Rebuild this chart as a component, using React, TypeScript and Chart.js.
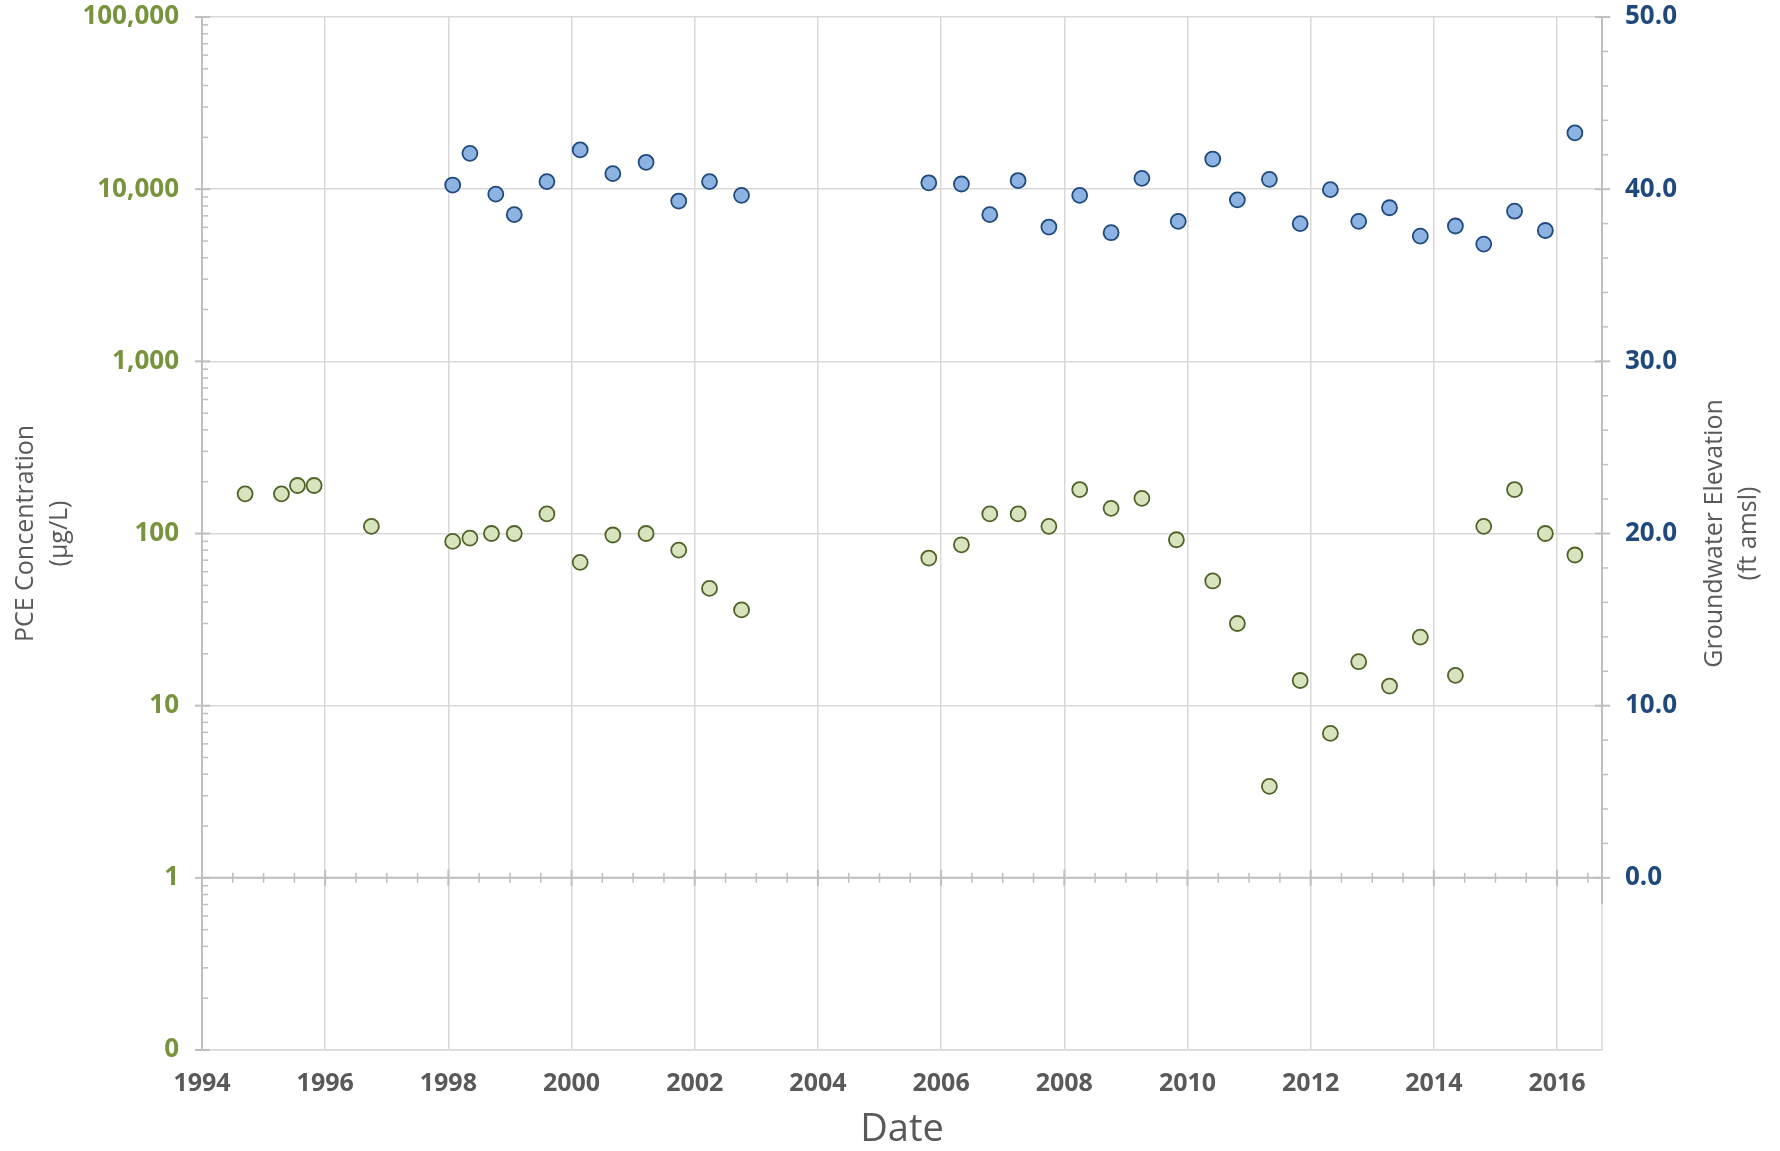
import React, { useEffect, useRef } from "react";
import { Chart, registerables } from "chart.js";

Chart.register(...registerables);

// ---- Data (decimal years) ----
const YEAR_TICKS = [1994, 1996, 1998, 2000, 2002, 2004, 2006, 2008, 2010, 2012, 2014, 2016];
const X_MIN = 1994;
const X_MAX = 2016.73;

const CONC_TICKS = [0.1, 1, 10, 100, 1000, 10000, 100000];
const ELEV_TICKS = [0, 10, 20, 30, 40, 50];

const PCE_DATES = [
  1994.7, 1995.29, 1995.55, 1995.82, 1996.75, 1998.07, 1998.35, 1998.7, 1999.07, 1999.6,
  2000.14, 2000.67, 2001.21, 2001.74, 2002.24, 2002.76, 2005.8, 2006.33, 2006.79, 2007.25,
  2007.75, 2008.25, 2008.76, 2009.26, 2009.82, 2010.41, 2010.81, 2011.33, 2011.83, 2012.32,
  2012.78, 2013.28, 2013.78, 2014.35, 2014.81, 2015.31, 2015.81, 2016.29,
];
const PCE_VALUES = [
  170, 170, 190, 190, 110, 90, 94, 100, 100, 130,
  68, 98, 100, 80, 48, 36, 72, 86, 130, 130,
  110, 180, 140, 160, 92, 53, 30, 3.4, 14, 6.9,
  18, 13, 25, 15, 110, 180, 100, 75,
];

const GW_DATES = [
  1998.07, 1998.35, 1998.77, 1999.07, 1999.6, 2000.14, 2000.67, 2001.21, 2001.74, 2002.24,
  2002.76, 2005.8, 2006.33, 2006.79, 2007.25, 2007.75, 2008.25, 2008.76, 2009.26, 2009.85,
  2010.41, 2010.81, 2011.33, 2011.83, 2012.32, 2012.78, 2013.28, 2013.78, 2014.35, 2014.81,
  2015.31, 2015.81, 2016.29,
];
const GW_VALUES = [
  40.24, 42.08, 39.71, 38.52, 40.44, 42.28, 40.9, 41.56, 39.31, 40.44,
  39.64, 40.37, 40.3, 38.52, 40.5, 37.8, 39.64, 37.47, 40.63, 38.13,
  41.75, 39.38, 40.57, 38.0, 39.97, 38.13, 38.92, 37.27, 37.86, 36.81,
  38.72, 37.6, 43.27,
];

// ---- Styles ----
const FONT = "'Open Sans', 'Noto Sans', sans-serif";
const GRID = "#d9d9d9";
const AXIS = "#bfbfbf";
const GREEN_TXT = "#77933c";
const NAVY_TXT = "#1f497d";
const GRAY_TXT = "#595959";

const decor = {
  id: "decor",
  beforeDatasetsDraw(chart: any) {
    const ctx = chart.ctx as CanvasRenderingContext2D;
    const { left, right, top, bottom } = chart.chartArea;
    const xs = chart.scales.x;
    const yl = chart.scales.y;
    const yr = chart.scales.y2;
    const line = (x1: number, y1: number, x2: number, y2: number) => {
      ctx.beginPath();
      ctx.moveTo(x1, y1);
      ctx.lineTo(x2, y2);
      ctx.stroke();
    };
    ctx.save();
    ctx.strokeStyle = GRID;
    ctx.lineWidth = 1.5;
    line(right, top, right, bottom);

    ctx.strokeStyle = AXIS;
    ctx.lineWidth = 2;
    line(left, top, left, bottom);
    ctx.lineWidth = 1.5;
    for (let k = -1; k <= 4; k++) {
      for (let m = 2; m <= 9; m++) {
        const y = yl.getPixelForValue(m * Math.pow(10, k));
        line(left, y, left + 6, y);
      }
    }
    ctx.lineWidth = 2;
    for (const v of CONC_TICKS) {
      const y = yl.getPixelForValue(v);
      line(left - 7, y, left + 8, y);
    }
    ctx.lineWidth = 2;
    line(right, top, right, yr.getPixelForValue(-1.5));
    ctx.lineWidth = 1.5;
    for (let v = 2; v < 50; v += 2) {
      if (v % 10 === 0) continue;
      const y = yr.getPixelForValue(v);
      line(right, y, right + 6, y);
    }
    ctx.lineWidth = 2;
    for (const v of ELEV_TICKS) {
      const y = yr.getPixelForValue(v);
      line(right - 7, y, right + 8, y);
    }
    const y1 = yl.getPixelForValue(1);
    ctx.lineWidth = 2;
    line(left, y1, right, y1);
    for (let v = X_MIN + 0.5; v < X_MAX; v += 0.5) {
      const x = xs.getPixelForValue(v);
      const major = Math.abs(v - Math.round(v)) < 1e-6 && Math.round(v) % 2 === 0;
      const h = major ? 8 : 5;
      ctx.lineWidth = major ? 2 : 1.5;
      line(x, y1 - h, x, y1 + h);
    }
    ctx.restore();
  },
  afterDraw(chart: any) {
    const ctx = chart.ctx as CanvasRenderingContext2D;
    const { left, right, top, bottom } = chart.chartArea;
    const midY = (top + bottom) / 2;
    ctx.save();
    ctx.fillStyle = GRAY_TXT;
    ctx.textAlign = "center";
    ctx.textBaseline = "middle";
    ctx.font = `400 25px ${FONT}`;
    const vtext = (t: string, x: number, y: number) => {
      ctx.save();
      ctx.translate(x, y);
      ctx.rotate(-Math.PI / 2);
      ctx.fillText(t, 0, 0);
      ctx.restore();
    };
    vtext("PCE Concentration", 26, midY);
    vtext("(µg/L)", 60, midY);
    vtext("Groundwater Elevation", 1715, midY);
    vtext("(ft amsl)", 1749, midY);
    ctx.font = `400 38px ${FONT}`;
    ctx.fillText("Date", (left + right) / 2, bottom + 80);
    ctx.restore();
  },
};

export default function App() {
  const ref = useRef<HTMLCanvasElement | null>(null);

  useEffect(() => {
    document.body.style.margin = "0";
    const canvas = ref.current;
    if (!canvas) return;
    const chart = new Chart(canvas, {
      type: "scatter",
      data: {
        datasets: [
          {
            label: "PCE Concentration",
            data: PCE_DATES.map((d, i) => ({ x: d, y: PCE_VALUES[i] })),
            yAxisID: "y",
            backgroundColor: "#d7e4bd",
            borderColor: "#4f6228",
            borderWidth: 1.8,
            pointRadius: 7.5,
          },
          {
            label: "Groundwater Elevation",
            data: GW_DATES.map((d, i) => ({ x: d, y: GW_VALUES[i] })),
            yAxisID: "y2",
            backgroundColor: "#8db3e2",
            borderColor: "#1f497d",
            borderWidth: 1.8,
            pointRadius: 7.5,
          },
        ],
      },
      options: {
        responsive: false,
        devicePixelRatio: 1,
        animation: false,
        layout: { padding: { top: 17, left: 0, right: 0, bottom: 0 } },
        plugins: {
          legend: { display: false },
          tooltip: { enabled: false },
        },
        scales: {
          x: {
            type: "linear",
            position: "bottom",
            min: X_MIN,
            max: X_MAX,
            afterBuildTicks: (s: any) => {
              s.ticks = YEAR_TICKS.map((v) => ({ value: v }));
            },
            afterFit: (s: any) => {
              s.height = 101;
              s.paddingLeft = 0;
              s.paddingRight = 0;
            },
            grid: { color: GRID, lineWidth: 1.5, drawTicks: false },
            border: { display: true, color: GRID, width: 1.5 },
            ticks: {
              padding: 19,
              maxRotation: 0,
              autoSkip: false,
              color: GRAY_TXT,
              font: { family: FONT, size: 25, weight: "bold" },
              callback: (v: any) => String(v),
            },
          },
          y: {
            type: "logarithmic",
            position: "left",
            min: 0.1,
            max: 100000,
            afterBuildTicks: (s: any) => {
              s.ticks = CONC_TICKS.map((v) => ({ value: v }));
            },
            afterFit: (s: any) => {
              s.width = 202;
              s.paddingTop = 0;
              s.paddingBottom = 0;
            },
            grid: { color: GRID, lineWidth: 1.5, drawTicks: false },
            border: { display: false },
            ticks: {
              padding: 23,
              autoSkip: false,
              color: GREEN_TXT,
              font: { family: FONT, size: 26, weight: "bold" },
              callback: (v: any) => (v < 1 ? "0" : Number(v).toLocaleString("en-US")),
            },
          },
          y2: {
            type: "linear",
            position: "right",
            min: -10,
            max: 50,
            afterBuildTicks: (s: any) => {
              s.ticks = ELEV_TICKS.map((v) => ({ value: v }));
            },
            afterFit: (s: any) => {
              s.width = 178;
              s.paddingTop = 0;
              s.paddingBottom = 0;
            },
            grid: { display: false, drawTicks: false },
            border: { display: false },
            ticks: {
              padding: 23,
              autoSkip: false,
              color: NAVY_TXT,
              font: { family: FONT, size: 26, weight: "bold" },
              callback: (v: any) => Number(v).toFixed(1),
            },
          },
        },
      },
      plugins: [decor],
    });
    return () => chart.destroy();
  }, []);

  return (
    <div style={{ width: 1780, height: 1151 }}>
      <canvas ref={ref} width={1780} height={1151} style={{ display: "block" }} />
    </div>
  );
}
